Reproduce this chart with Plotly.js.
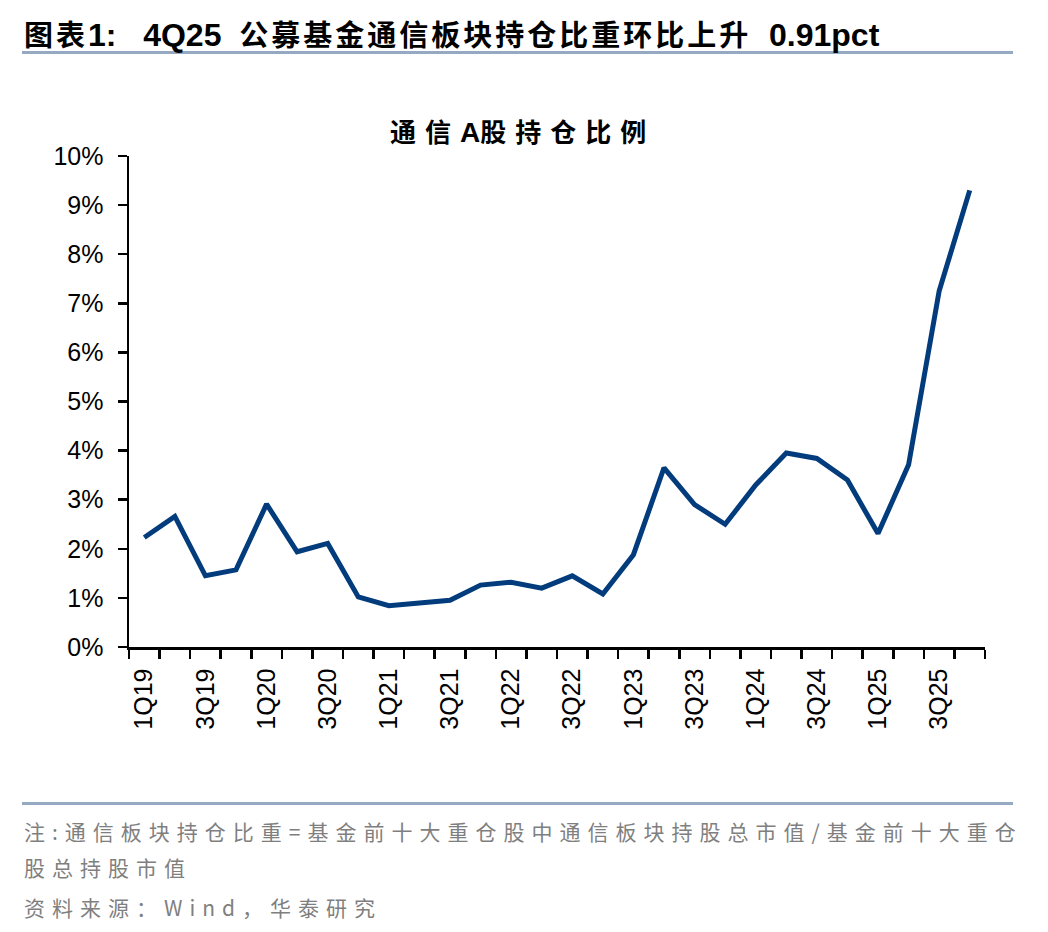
<!DOCTYPE html>
<html>
<head>
<meta charset="utf-8">
<script src="https://cdn.plot.ly/plotly-3.0.1.min.js"></script>
<style>
  html, body { margin: 0; padding: 0; background: #fff; }
  #chart { width: 1048px; height: 932px; }
</style>
</head>
<body>
<div id="chart"></div>
<script>
const quarters = ["1Q19","2Q19","3Q19","4Q19","1Q20","2Q20","3Q20","4Q20",
                  "1Q21","2Q21","3Q21","4Q21","1Q22","2Q22","3Q22","4Q22",
                  "1Q23","2Q23","3Q23","4Q23","1Q24","2Q24","3Q24","4Q24",
                  "1Q25","2Q25","3Q25","4Q25"];
const shareValues = [2.23, 2.66, 1.45, 1.57, 2.91, 1.94, 2.11, 1.02,
                     0.84, 0.89, 0.95, 1.26, 1.32, 1.20, 1.45, 1.08,
                     1.88, 3.65, 2.90, 2.50, 3.30, 3.95, 3.84, 3.40,
                     2.31, 3.71, 7.25, 9.30];
const tickLabels = ["1Q19","","3Q19","","1Q20","","3Q20","",
                    "1Q21","","3Q21","","1Q22","","3Q22","",
                    "1Q23","","3Q23","","1Q24","","3Q24","",
                    "1Q25","","3Q25",""];
const yTicks = [0,1,2,3,4,5,6,7,8,9,10];
const yTickText = ["0%","1%","2%","3%","4%","5%","6%","7%","8%","9%","10%"];

const headerLabel = "图表";
const headerNum = "1:";
const headerPeriod = "4Q25";
const headerBody = "公募基金通信板块持仓比重环比上升";
const headerValue = "0.91pct";
const chartTitleA = "通信";
const chartTitleB = "A";
const chartTitleC = "股持仓比例";
const noteLine1 = "注:通信板块持仓比重=基金前十大重仓股中通信板块持股总市值/基金前十大重仓";
const noteLine2 = "股总持股市值";
const sourceLine = "资料来源：Wind，华泰研究";

const trace = {
  type: "scatter",
  mode: "lines",
  x: quarters,
  y: shareValues,
  line: { color: "#023C7C", width: 5 },
  hoverinfo: "skip"
};

const W = 1048, H = 932;
const L = 129, R = 985, T = 156, B = 647;
const px = v => (v - L) / (R - L);
const py = v => (B - v) / (B - T);

const cjk = "'Noto Sans CJK SC', 'Liberation Sans', sans-serif";
const latin = "'Liberation Sans', Arial, sans-serif";
const NB = "\u00a0";

const cjkSpan = (t, size, ls) =>
  `<span style="font-family:'Noto Sans CJK SC';font-size:${size}px;letter-spacing:${ls}px">${t}</span>`;
const latSpan = (t, size) =>
  `<span style="font-family:'Liberation Sans';font-size:${size}px">${t}</span>`;

const headerHtml = "<b>" +
  cjkSpan(headerLabel, 29, 3) +
  latSpan(headerNum + NB + NB + NB + headerPeriod + NB + NB, 32) +
  cjkSpan(headerBody, 29, 3) +
  latSpan(NB + NB + headerValue, 32) + "</b>";

const titleHtml = "<b>" +
  cjkSpan(chartTitleA, 26, 9) +
  latSpan(chartTitleB, 28) +
  cjkSpan(chartTitleC, 26, 9) + "</b>";

const noteSpan = t => `<span style="letter-spacing:7px">${t}</span>`;

const layout = {
  width: W, height: H,
  margin: { l: L, r: W - R, t: T, b: H - B, pad: 0 },
  paper_bgcolor: "#ffffff",
  plot_bgcolor: "#ffffff",
  showlegend: false,
  xaxis: {
    type: "category",
    categoryorder: "array",
    categoryarray: quarters,
    range: [-0.5, quarters.length - 0.5],
    tickmode: "array",
    tickvals: quarters,
    ticktext: tickLabels,
    tickson: "boundaries",
    ticks: "outside",
    ticklen: 9,
    tickwidth: 2.5,
    tickcolor: "#000",
    tickangle: -90,
    ticklabelstandoff: 9,
    tickfont: { family: latin, size: 25, color: "#000" },
    showline: true,
    linecolor: "#000",
    linewidth: 2.5,
    showgrid: false,
    zeroline: false,
    fixedrange: true
  },
  yaxis: {
    range: [0, 10],
    tickmode: "array",
    tickvals: yTicks,
    ticktext: yTickText,
    ticks: "outside",
    ticklen: 9,
    tickwidth: 2.5,
    tickcolor: "#000",
    ticklabelstandoff: 9,
    tickfont: { family: latin, size: 25, color: "#000" },
    showline: true,
    linecolor: "#000",
    linewidth: 2.5,
    showgrid: false,
    zeroline: false,
    fixedrange: true
  },
  shapes: [
    { type: "line", xref: "paper", yref: "paper",
      x0: px(22), x1: px(1013), y0: py(52.5), y1: py(52.5),
      line: { color: "#95A9C3", width: 3 } },
    { type: "line", xref: "paper", yref: "paper",
      x0: px(22), x1: px(1013), y0: py(803.5), y1: py(803.5),
      line: { color: "#95A9C3", width: 3 } }
  ],
  annotations: [
    { text: headerHtml, xref: "paper", yref: "paper",
      x: px(22), y: py(33), xanchor: "left", yanchor: "middle", showarrow: false,
      font: { family: cjk, size: 29, color: "#000" } },
    { text: titleHtml, xref: "paper", yref: "paper",
      x: px(522), y: py(130), xanchor: "center", yanchor: "middle", showarrow: false,
      font: { family: cjk, size: 26, color: "#000" } },
    { text: noteSpan(noteLine1), xref: "paper", yref: "paper",
      x: px(22), y: py(831), xanchor: "left", yanchor: "middle", showarrow: false,
      font: { family: cjk, size: 21, color: "#7F7F7F" } },
    { text: noteSpan(noteLine2), xref: "paper", yref: "paper",
      x: px(22), y: py(867), xanchor: "left", yanchor: "middle", showarrow: false,
      font: { family: cjk, size: 21, color: "#7F7F7F" } },
    { text: noteSpan(sourceLine), xref: "paper", yref: "paper",
      x: px(22), y: py(907), xanchor: "left", yanchor: "middle", showarrow: false,
      font: { family: cjk, size: 21, color: "#7F7F7F" } }
  ]
};

Plotly.newPlot("chart", [trace], layout, { displayModeBar: false, staticPlot: true });
</script>
</body>
</html>
